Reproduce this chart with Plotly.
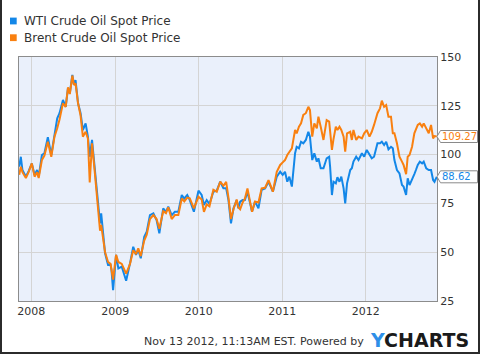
import plotly.graph_objects as go

dates = [
    "2007-11-09", "2007-11-16", "2007-11-23", "2007-12-08", "2007-12-20",
    "2008-01-03", "2008-01-15", "2008-01-26", "2008-02-02", "2008-02-16",
    "2008-02-27", "2008-03-13", "2008-03-28", "2008-04-11", "2008-04-23",
    "2008-05-03", "2008-05-18", "2008-05-30", "2008-06-09", "2008-06-17",
    "2008-06-28", "2008-07-05", "2008-07-12", "2008-07-23", "2008-08-03",
    "2008-08-13", "2008-08-25", "2008-09-04", "2008-09-12", "2008-09-22",
    "2008-10-04", "2008-10-18", "2008-10-27", "2008-11-01", "2008-11-08",
    "2008-11-18", "2008-12-01", "2008-12-12", "2008-12-16", "2008-12-23",
    "2009-01-05", "2009-01-15", "2009-01-30", "2009-02-18", "2009-03-07",
    "2009-03-21", "2009-04-02", "2009-04-12", "2009-04-23", "2009-05-08",
    "2009-05-19", "2009-06-02", "2009-06-17", "2009-07-01", "2009-07-13",
    "2009-07-30", "2009-08-11", "2009-08-21", "2009-09-05", "2009-09-19",
    "2009-10-04", "2009-10-19", "2009-10-30", "2009-11-12", "2009-11-23",
    "2009-12-11", "2009-12-31", "2010-01-14", "2010-01-24", "2010-02-05",
    "2010-02-17", "2010-03-06", "2010-03-21", "2010-04-05", "2010-04-19",
    "2010-05-01", "2010-05-11", "2010-05-22", "2010-06-02", "2010-06-16",
    "2010-06-23", "2010-07-01", "2010-07-12", "2010-07-22", "2010-08-02",
    "2010-08-10", "2010-08-22", "2010-09-04", "2010-09-19", "2010-10-03",
    "2010-10-18", "2010-11-02", "2010-11-21", "2010-12-08", "2010-12-23",
    "2011-01-03", "2011-01-13", "2011-01-23", "2011-02-01", "2011-02-12",
    "2011-02-26", "2011-03-05", "2011-03-15", "2011-03-24", "2011-04-03",
    "2011-04-14", "2011-04-25", "2011-05-02", "2011-05-12", "2011-05-21",
    "2011-06-01", "2011-06-08", "2011-06-18", "2011-06-30", "2011-07-14",
    "2011-07-25", "2011-07-29", "2011-08-06", "2011-08-13", "2011-08-23",
    "2011-08-30", "2011-09-08", "2011-09-16", "2011-09-26", "2011-10-03",
    "2011-10-11", "2011-10-25", "2011-11-01", "2011-11-08", "2011-11-20",
    "2011-11-30", "2011-12-15", "2011-12-25", "2012-01-05", "2012-01-17",
    "2012-01-27", "2012-02-06", "2012-02-21", "2012-03-03", "2012-03-11",
    "2012-03-21", "2012-03-30", "2012-04-09", "2012-04-20", "2012-04-28",
    "2012-05-05", "2012-05-16", "2012-05-27", "2012-06-07", "2012-06-14",
    "2012-06-25", "2012-07-02", "2012-07-10", "2012-07-21", "2012-07-31",
    "2012-08-07", "2012-08-15", "2012-08-24", "2012-09-03", "2012-09-10",
    "2012-09-21", "2012-10-02", "2012-10-12", "2012-10-21", "2012-10-27",
    "2012-11-06",
]

wti = [
    93.8, 98.9, 92.1, 88.7, 91.5,
    95.5, 89.6, 92.1, 88.7, 99.8,
    100.7, 108.9, 99.8, 110.0, 118.6,
    121.2, 128.0, 124.5, 134.0, 131.4,
    140.8, 135.7, 138.2, 126.3, 121.2,
    112.6, 116.0, 109.2, 98.9, 107.5,
    93.8, 76.7, 64.8, 69.9, 59.7,
    49.4, 43.4, 43.4, 40.9, 30.6,
    48.6, 41.7, 42.6, 35.4, 44.3,
    52.8, 48.6, 51.1, 46.9, 57.9,
    60.5, 69.0, 69.9, 66.5, 59.7,
    72.5, 70.7, 73.3, 69.0, 70.7,
    70.7, 79.3, 77.5, 79.3, 76.7,
    70.7, 81.5, 79.3, 74.2, 76.7,
    74.7, 81.0, 81.5, 86.1, 82.7,
    82.7, 76.7, 64.8, 72.5, 76.7,
    72.5, 75.9, 76.7, 76.7, 81.0,
    76.7, 70.7, 75.9, 72.5, 81.9,
    82.7, 86.1, 81.0, 88.7, 91.2,
    89.6, 91.2, 86.1, 88.7, 83.6,
    100.7, 104.0, 103.2, 106.6, 105.8,
    107.5, 111.7, 109.2, 97.2, 100.7,
    96.4, 98.1, 93.0, 93.0, 98.1,
    98.9, 93.8, 79.3, 86.1, 85.3,
    88.4, 86.1, 88.7, 82.7, 75.0,
    85.3, 92.1, 93.0, 96.4, 98.9,
    97.2, 100.7, 98.9, 102.4, 99.8,
    98.1, 98.9, 105.8, 105.8, 106.6,
    104.9, 106.6, 102.7, 104.0, 103.2,
    97.2, 92.1, 90.4, 84.4, 83.6,
    79.3, 87.9, 84.4, 87.9, 90.0,
    92.1, 94.7, 96.4, 95.5, 96.4,
    93.0, 92.1, 92.1, 87.0, 86.1,
    88.62,
]

brent = [
    89.6, 93.8, 91.0, 88.0, 91.0,
    95.5, 88.7, 91.0, 88.0, 97.2,
    99.5, 106.6, 98.9, 109.2, 113.5,
    118.0, 126.3, 124.5, 134.5, 131.0,
    140.5, 135.7, 136.5, 126.3, 120.0,
    109.2, 111.7, 108.3, 85.7, 105.8,
    91.0, 75.0, 61.0, 64.0, 58.0,
    50.0, 45.0, 44.0, 41.0, 36.0,
    48.6, 45.0, 44.0, 39.0, 44.0,
    51.0, 49.0, 52.0, 48.0, 56.0,
    59.0, 67.0, 69.0, 67.0, 62.0,
    71.0, 70.0, 73.0, 67.0, 69.0,
    69.0, 77.5, 76.0, 78.0, 77.6,
    72.5, 78.4, 77.0, 70.7, 74.5,
    73.5, 82.0, 81.0, 86.1, 84.0,
    86.0, 78.0, 67.0, 72.0, 77.0,
    73.0, 72.0, 75.5, 77.5, 82.7,
    78.0, 70.7, 76.0, 75.5, 82.7,
    83.0, 86.9, 81.0, 91.2, 94.7,
    96.0, 97.2, 99.8, 101.5, 103.2,
    112.6, 110.9, 114.3, 116.0, 120.3,
    121.2, 124.5, 122.8, 109.2, 116.0,
    113.5, 119.4, 114.3, 107.5, 117.7,
    116.9, 112.0, 102.4, 108.0, 114.3,
    112.6, 114.3, 112.6, 109.2, 101.5,
    110.9, 111.7, 107.5, 112.6, 107.5,
    109.2, 108.3, 110.9, 112.6, 109.2,
    111.7, 115.2, 121.2, 123.7, 127.6,
    124.5, 125.4, 119.4, 119.4, 110.9,
    110.9, 105.8, 98.9, 96.4, 94.7,
    90.0, 98.9, 99.8, 104.0, 110.9,
    113.0, 115.2, 116.0, 114.3, 116.0,
    113.5, 110.9, 115.2, 108.3, 109.5,
    109.27,
]

series_names = ["WTI Crude Oil Spot Price", "Brent Crude Oil Spot Price"]
y_ticks = [25, 50, 75, 100, 125, 150]
footer_text = "Nov 13 2012, 11:13AM EST. Powered by"

BLUE = "#1387E8"
ORANGE = "#F98010"
W, H = 480, 354
ML, MR, MT, MB = 19, 43, 57, 53
PW, PH = W - ML - MR, H - MT - MB


def fx(px):
    return (px - ML) / PW


def fy(py):
    return (H - MB - py) / PH


fig = go.Figure()
fig.add_trace(go.Scatter(x=dates, y=wti, mode="lines", name=series_names[0],
                         line=dict(color=BLUE, width=2), showlegend=False))
fig.add_trace(go.Scatter(x=dates, y=brent, mode="lines", name=series_names[1],
                         line=dict(color=ORANGE, width=2), showlegend=False))

shapes = []
annotations = []

# legend squares + labels
for i, (name, col) in enumerate(zip(series_names, [BLUE, ORANGE])):
    cy = 21 + i * 16.7
    shapes.append(dict(type="rect", xref="paper", yref="paper",
                       x0=fx(10), x1=fx(16.7), y0=fy(cy - 3.4), y1=fy(cy + 3.4),
                       fillcolor=col, line=dict(width=0)))
    annotations.append(dict(text=name, xref="paper", yref="paper", x=fx(21.5), y=fy(cy),
                            xanchor="left", yanchor="middle", showarrow=False,
                            font=dict(family="DejaVu Sans", size=12, color="#333333")))

# outer frame (left, right, bottom)
frame = dict(color="#2b2b2b", width=2)
shapes.append(dict(type="line", xref="paper", yref="paper", x0=fx(1), x1=fx(1),
                   y0=fy(0), y1=fy(353), line=frame))
shapes.append(dict(type="line", xref="paper", yref="paper", x0=fx(479), x1=fx(479),
                   y0=fy(0), y1=fy(353), line=frame))
shapes.append(dict(type="line", xref="paper", yref="paper", x0=fx(0), x1=fx(480),
                   y0=fy(353), y1=fy(353), line=frame))

# end-value labels
unit_per_px = 125 / PH
for val, col in [(brent[-1], ORANGE), (wti[-1], BLUE)]:
    h = 6 * unit_per_px
    x0, x1, x2 = fx(437), fx(440.5), fx(477.5)
    path = (f"M {x0},{val} L {x1},{val + h} L {x2},{val + h} "
            f"L {x2},{val - h} L {x1},{val - h} Z")
    shapes.append(dict(type="path", xref="paper", yref="y", path=path,
                       fillcolor="white", line=dict(color="#8a8a8a", width=1)))
    annotations.append(dict(text=f"{val:.2f}", xref="paper", yref="y", x=fx(440), y=val,
                            xanchor="left", yanchor="middle", showarrow=False,
                            font=dict(family="DejaVu Sans", size=10, color=col)))

# footer
annotations.append(dict(text=footer_text, xref="paper", yref="paper", x=fx(365.5), y=fy(341),
                        xanchor="right", yanchor="middle", showarrow=False,
                        font=dict(family="DejaVu Sans", size=11, color="#333333")))
annotations.append(dict(text="<b><span style='color:#2E8FE8'>Y</span>CHARTS</b>",
                        xref="paper", yref="paper", x=fx(368), y=fy(339.5),
                        xanchor="left", yanchor="middle", showarrow=False,
                        font=dict(family="DejaVu Sans", size=19, color="#1a1a1a")))

fig.update_layout(
    width=W, height=H,
    margin=dict(l=ML, r=MR, t=MT, b=MB, pad=0),
    paper_bgcolor="white",
    plot_bgcolor="#EAF0FB",
    showlegend=False,
    shapes=shapes,
    annotations=annotations,
    xaxis=dict(
        type="date", range=["2007-11-08", "2012-11-07"],
        tick0="2008-01-01", dtick="M12", tickformat="%Y",
        showgrid=True, gridcolor="#D4D4D4", gridwidth=1,
        showline=True, linecolor="#8c8c8c", linewidth=1, mirror=True,
        ticks="", zeroline=False,
        tickfont=dict(family="DejaVu Sans", size=11, color="#333333"),
    ),
    yaxis=dict(
        range=[25, 150], side="right", tickvals=y_ticks,
        showgrid=True, gridcolor="#D4D4D4", gridwidth=1,
        showline=True, linecolor="#8c8c8c", linewidth=1, mirror=True,
        ticks="", zeroline=False,
        tickfont=dict(family="DejaVu Sans", size=11, color="#333333"),
    ),
)

fig.write_html("out.html")
